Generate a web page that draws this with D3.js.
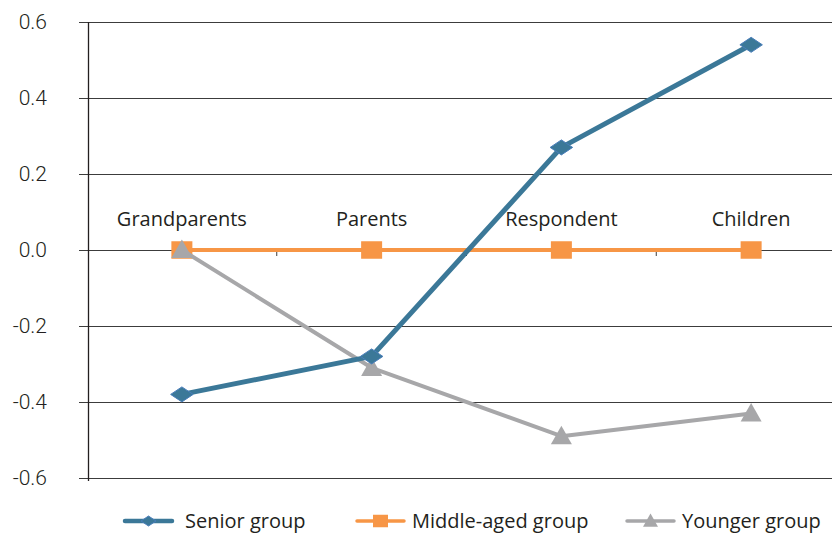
<!DOCTYPE html>
<html>
<head>
<meta charset="utf-8">
<script src="https://cdn.jsdelivr.net/npm/d3@7"></script>
<style>
  body { margin: 0; background: #fff; }
  .tick-label { font-family: Roboto, "DejaVu Sans", sans-serif; font-size: 21px; font-weight: 300; fill: #231f20; }
  .cat-label, .legend-label { font-family: "Open Sans", "Noto Sans", sans-serif; font-size: 20px; fill: #231f20; }
</style>
</head>
<body>
<svg id="chart" width="832" height="534"></svg>
<script>
const categories = ['Grandparents', 'Parents', 'Respondent', 'Children'];
const senior = [-0.38, -0.28, 0.27, 0.54];
const middleAged = [0, 0, 0, 0];
const younger = [0, -0.31, -0.49, -0.43];
const yTicks = [0.6, 0.4, 0.2, 0.0, -0.2, -0.4, -0.6];

const series = [
  {name: 'Senior group', values: senior, color: '#3b7898', width: 5, marker: 'diamond'},
  {name: 'Middle-aged group', values: middleAged, color: '#f79646', width: 4, marker: 'square'},
  {name: 'Younger group', values: younger, color: '#a7a7a9', width: 4, marker: 'triangle'}
];
const drawOrder = [series[1], series[2], series[0]];

const svg = d3.select('#chart');
const plotLeft = 88, plotTop = 22, plotBottom = 478, plotRight = 846;

const x = d3.scaleBand().domain(categories).range([plotLeft - 1, plotRight]);
const y = d3.scaleLinear().domain([-0.6, 0.6]).range([plotBottom, plotTop]);
const cx = d => x(d) + x.bandwidth() / 2;

// gridlines + y ticks
svg.append('g').selectAll('line')
  .data(yTicks)
  .join('line')
  .attr('x1', plotLeft - 9).attr('x2', 832)
  .attr('y1', d => Math.round(y(d)) + 0.5).attr('y2', d => Math.round(y(d)) + 0.5)
  .attr('stroke', '#3c3c3c').attr('stroke-width', 1);

svg.append('g').selectAll('text')
  .data(yTicks)
  .join('text')
  .attr('class', 'tick-label')
  .attr('x', 47).attr('y', d => y(d) + 7)
  .attr('text-anchor', 'end')
  .text(d => d3.format('.1f')(d).replace('−', '-'));

// y axis line
svg.append('line')
  .attr('x1', plotLeft + 0.5).attr('x2', plotLeft + 0.5)
  .attr('y1', plotTop).attr('y2', plotBottom + 3)
  .attr('stroke', '#231f20').attr('stroke-width', 1.3);

// category ticks at band boundaries on the zero line
svg.append('g').selectAll('line')
  .data(categories.slice(1))
  .join('line')
  .attr('x1', d => x(d)).attr('x2', d => x(d))
  .attr('y1', y(0)).attr('y2', y(0) + 6)
  .attr('stroke', '#3c3c3c');

// category labels
svg.append('g').selectAll('text')
  .data(categories)
  .join('text')
  .attr('class', 'cat-label')
  .attr('x', d => cx(d)).attr('y', y(0) - 24)
  .attr('text-anchor', 'middle')
  .text(d => d);

function marker(g, type, color, size) {
  if (type === 'diamond') {
    g.append('path').attr('d', `M0,${-size / 2.4}L${size / 1.6},0L0,${size / 2.4}L${-size / 1.6},0Z`)
      .attr('fill', color).attr('stroke', '#4a7ebb').attr('stroke-width', 1);
  } else if (type === 'square') {
    g.append('rect').attr('x', -size / 2).attr('y', -size / 2.4)
      .attr('width', size).attr('height', size / 1.2).attr('fill', color);
  } else {
    g.append('path').attr('d', `M0,${-size / 2}L${size / 2},${size / 2.6}L${-size / 2},${size / 2.6}Z`)
      .attr('fill', color);
  }
}

const line = d3.line().x((d, i) => cx(categories[i])).y(d => y(d));

drawOrder.forEach(s => {
  const g = svg.append('g');
  g.append('path').datum(s.values)
    .attr('d', line).attr('fill', 'none')
    .attr('stroke', s.color).attr('stroke-width', s.width)
    .attr('stroke-linejoin', 'round');
  s.values.forEach((v, i) => {
    const m = g.append('g').attr('transform', `translate(${cx(categories[i])},${y(v)})`);
    marker(m, s.marker, s.color, s.marker === 'diamond' ? 18 : 21);
  });
});

// legend
const legendX = [125, 357, 627];
series.forEach((s, i) => {
  const g = svg.append('g').attr('transform', `translate(${legendX[i]},521)`);
  g.append('line').attr('x1', 0).attr('x2', 47).attr('y1', 0).attr('y2', 0)
    .attr('stroke', s.color).attr('stroke-width', s.width - 0.5).attr('stroke-linecap', 'round');
  const m = g.append('g').attr('transform', 'translate(23.5,0)');
  marker(m, s.marker, s.color, s.marker === 'diamond' ? 12 : 15);
  g.append('text').attr('class', 'legend-label')
    .attr('x', i === 0 ? 60 : 55).attr('y', 7).text(s.name);
});
</script>
</body>
</html>
